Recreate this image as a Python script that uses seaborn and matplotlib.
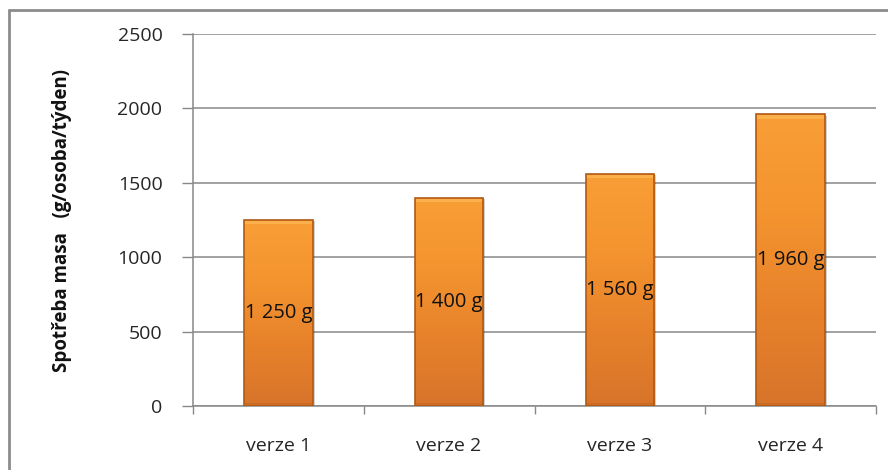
import numpy as np
import matplotlib
matplotlib.use("Agg")
import matplotlib.pyplot as plt
from matplotlib.colors import LinearSegmentedColormap
from matplotlib.lines import Line2D
import seaborn as sns

categories = ["verze 1", "verze 2", "verze 3", "verze 4"]
values = [1250, 1400, 1560, 1960]
value_labels = ["1 250 g", "1 400 g", "1 560 g", "1 960 g"]
y_ticks = [0, 500, 1000, 1500, 2000, 2500]
y_label = "Spotřeba masa   (g/osoba/týden)"

sns.set_style("white")
plt.rcParams["font.family"] = ["Open Sans", "DejaVu Sans"]

W, H = 888, 470
fig = plt.figure(figsize=(W / 100, H / 100), dpi=100)
ax = fig.add_axes([193 / W, 1 - 406 / H, (876 - 193) / W, (406 - 34) / H])

grid_col = "#888888"
sns.barplot(x=categories, y=values, color="#F39030", width=0.4, ax=ax,
            edgecolor="none", zorder=3)

ax.set_xlim(-0.5, len(categories) - 0.5)
ax.set_ylim(0, 2500)
ax.set_yticks(y_ticks)
ax.set_yticklabels([str(t) for t in y_ticks])
ax.yaxis.grid(True, color=grid_col, lw=1.1, zorder=0)
ax.set_axisbelow(True)

# category boundaries carry the tick marks, centres carry the labels
ax.set_xticks(np.arange(-0.5, len(categories)), minor=False)
ax.set_xticklabels([""] * (len(categories) + 1))
ax.set_xticks(np.arange(len(categories)), minor=True)
ax.set_xticklabels(categories, minor=True)
ax.tick_params(axis="x", which="major", direction="out", length=6,
               width=1, color=grid_col, bottom=True)
ax.tick_params(axis="x", which="minor", length=0, pad=22,
               labelsize=14, labelcolor="#262626")
ax.tick_params(axis="y", direction="out", length=8, width=1,
               color=grid_col, left=True, pad=14, labelsize=14,
               labelcolor="#262626")
for s in ["top", "right"]:
    ax.spines[s].set_visible(False)
for s in ["left", "bottom"]:
    ax.spines[s].set_color(grid_col)
    ax.spines[s].set_linewidth(1.1)
ax.set_xlabel("")
ax.set_ylabel("")

# shaded bars: vertical gradient, bevelled rim and soft shadow
grad = LinearSegmentedColormap.from_list(
    "bar", ["#D8742A", "#E7822B", "#F4942F", "#F99E36"])
gy = np.linspace(0, 1, 256).reshape(-1, 1)
for p, v, lab in zip(ax.patches, values, value_labels):
    x0, w = p.get_x(), p.get_width()
    h = p.get_height()
    shadow = plt.Rectangle((x0 + 0.012, -8), w, h, color="#000000",
                           alpha=0.18, zorder=2.5, lw=0)
    ax.add_patch(shadow)
    im = ax.imshow(gy, cmap=grad, origin="lower", aspect="auto",
                   extent=(x0, x0 + w, 0, h), zorder=3.2)
    im.set_clip_path(p)
    ax.add_patch(plt.Rectangle((x0, 0), w, h, fill=False,
                               edgecolor="#B05A14", lw=1.2, zorder=3.5))
    ax.add_patch(plt.Rectangle((x0 + 0.006, h - 28), w - 0.012, 22,
                               color="#FFC060", alpha=0.55, lw=0, zorder=3.4))
    ax.add_patch(plt.Rectangle((x0 + 0.006, 8), w - 0.012, 14,
                               color="#A85410", alpha=0.25, lw=0, zorder=3.4))
    ax.text(x0 + w / 2, v / 2, lab, ha="center", va="center",
            fontsize=14.5, color="#111111", zorder=4)

fig.text(62 / W, 1 - 220 / H, y_label, rotation=90, ha="center",
         va="center", fontsize=13.5, fontweight="bold", color="#111111")

# outer chart frame
frame_col = "#8C8C8C"
fig.add_artist(Line2D([9 / W, 9 / W], [0, 1 - 10 / H], color=frame_col,
                      lw=2, transform=fig.transFigure))
fig.add_artist(Line2D([9 / W, 1], [1 - 10 / H, 1 - 10 / H], color=frame_col,
                      lw=2, transform=fig.transFigure))

fig.savefig("out.png", dpi=100)
